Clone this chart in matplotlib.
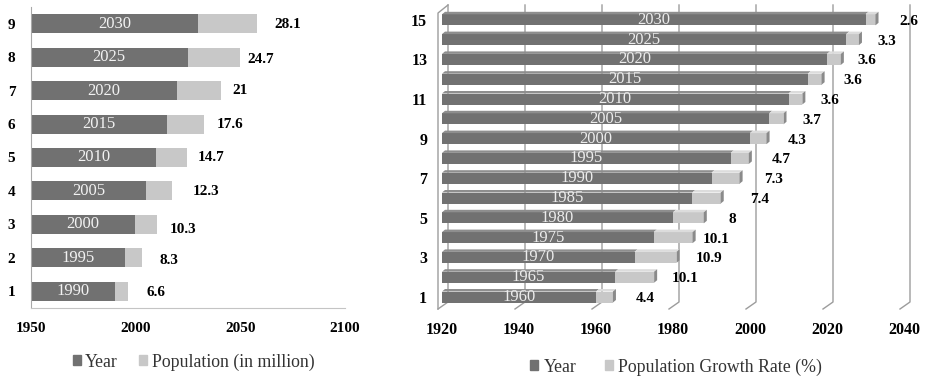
import numpy as np
import matplotlib.pyplot as plt
from matplotlib.patches import Polygon, Patch

plt.rcParams['font.family'] = ['Liberation Serif', 'DejaVu Serif']

# left panel: projected population
pop_cats = [1, 2, 3, 4, 5, 6, 7, 8, 9]
pop_years = [1990, 1995, 2000, 2005, 2010, 2015, 2020, 2025, 2030]
pop_million = [6.6, 8.3, 10.3, 12.3, 14.7, 17.6, 21, 24.7, 28.1]

# right panel: growth rate per five-year step
rate_cats = list(range(1, 16))
rate_years = [1960, 1965, 1970, 1975, 1980, 1985, 1990, 1995,
              2000, 2005, 2010, 2015, 2020, 2025, 2030]
rate_pct = [4.4, 10.1, 10.9, 10.1, 8, 7.4, 7.3, 4.7,
            4.3, 3.7, 3.6, 3.6, 3.6, 3.3, 2.6]

DARK = '#717171'
LIGHT = '#c8c8c8'
GRID = '#9c9c9c'

W, H = 925, 378
fig = plt.figure(figsize=(W / 100, H / 100), dpi=100)


def place(x0, y0, x1, y1):
    return fig.add_axes([x0 / W, 1 - y1 / H, (x1 - x0) / W, (y1 - y0) / H])


# ---------------- left chart ----------------
ax1 = place(30.7, 7, 345, 308)
ax1.set_xlim(1950, 2100)
ax1.set_ylim(0.5, 9.5)
base = 1950
ax1.barh(pop_cats, np.array(pop_years) - base, left=base, height=0.57, color=DARK)
ax1.barh(pop_cats, pop_million, left=pop_years, height=0.57, color=LIGHT)

lab_dx = [18, 17, 13, 21, 11, 13, 11, 8, 17]
lab_dy = [1, 3, 5, 1, 0, 0, 0, 2, 1]
for c, yr, v, dx, dy in zip(pop_cats, pop_years, pop_million, lab_dx, lab_dy):
    ax1.text((base + yr) / 2, c, str(yr), ha='center', va='center',
             color='#f2f2f2', fontsize=12)
    ax1.annotate(f'{v:g}', (yr + v, c), xytext=(dx, -dy), textcoords='offset pixels',
                 ha='left', va='center', fontsize=11, fontweight='bold')

ax1.set_xticks([1950, 2000, 2050, 2100])
ax1.set_yticks(pop_cats)
ax1.tick_params(length=0, labelsize=11)
ax1.tick_params(axis='x', pad=10)
ax1.tick_params(axis='y', pad=11)
for lbl in ax1.get_xticklabels() + ax1.get_yticklabels():
    lbl.set_fontweight('bold')
for s in ['top', 'right']:
    ax1.spines[s].set_visible(False)
ax1.spines['left'].set_color('#a8a8a8')
ax1.spines['bottom'].set_color('#c4c4c4')

fig.legend([Patch(color=DARK), Patch(color=LIGHT)], ['Year', 'Population (in million)'],
           loc='center', bbox_to_anchor=(193.5 / W, 1 - 362 / H), ncol=2, frameon=False,
           fontsize=12.8, handlelength=0.45, handleheight=0.45, handletextpad=0.25,
           columnspacing=1.2, borderpad=0, labelcolor='#333333')

# ---------------- right chart (3-D look) ----------------
ax2 = place(430, 0, 925, 318)
px_x, px_y = 3.85, 19.8          # pixels per year / per category
ax2.set_xlim(1920 - 12 / px_x, 1920 + 483 / px_x)
ax2.set_ylim(1 + (297 - 318) / px_y, 1 + 297 / px_y)
for s in ax2.spines.values():
    s.set_visible(False)


def cy(p):
    # pixel row -> category units
    return 1 + (297 - p) / px_y


# back wall gridlines with their floor slant
for t in range(1920, 2041, 20):
    xf, xb = t - 4 / px_x, t + 6 / px_x
    ax2.plot([xf, xb, xb], [cy(309), cy(302), cy(5)], color=GRID, lw=1,
             zorder=1, clip_on=False)
# left side wall front edge
xf, xb = 1920 - 4 / px_x, 1920 + 6 / px_x
ax2.plot([xf, xf, xb], [cy(309), cy(13), cy(5)], color=GRID, lw=1, zorder=1, clip_on=False)

fh = 11 / px_y
dx3, dy3 = 3 / px_x, 2.5 / px_y
ax2.barh(rate_cats, np.array(rate_years) - 1920, left=1920, height=fh, color=DARK, zorder=3)
ax2.barh(rate_cats, rate_pct, left=rate_years, height=fh, color=LIGHT, zorder=3)


def top_face(x0, x1, c, col):
    y1 = c + fh / 2
    ax2.add_patch(Polygon([(x0, y1), (x1, y1), (x1 + dx3, y1 + dy3), (x0 + dx3, y1 + dy3)],
                          closed=True, fc=col, ec='none', zorder=3))


for c, yr, v in zip(rate_cats, rate_years, rate_pct):
    top_face(1920, yr, c, '#8e8e8e')
    top_face(yr, yr + v, c, '#dcdcdc')
    x1 = yr + v
    y0, y1 = c - fh / 2, c + fh / 2
    ax2.add_patch(Polygon([(x1, y0), (x1, y1), (x1 + dx3, y1 + dy3), (x1 + dx3, y0 + dy3)],
                          closed=True, fc='#8a8a8a', ec='none', zorder=3))

rate_dx = [23, 18, 19, 10, 25, 29, 25, 23, 21, 19, 18, 22, 17, 18, 24]
for c, yr, v, dx in zip(rate_cats, rate_years, rate_pct, rate_dx):
    ax2.text((1920 + yr) / 2, c, str(yr), ha='center', va='center',
             color='#ececec', fontsize=12, zorder=4)
    ax2.annotate(f'{v:g}', (yr + v, c), xytext=(dx, -1.5), textcoords='offset pixels',
                 ha='left', va='center', fontsize=11, fontweight='bold', zorder=5)

ax2.set_xticks(range(1920, 2041, 20))
ax2.set_yticks(rate_cats[::2])
ax2.tick_params(length=0, labelsize=11.5)
ax2.tick_params(axis='x', pad=3)
ax2.tick_params(axis='y', pad=2)
for lbl in ax2.get_xticklabels() + ax2.get_yticklabels():
    lbl.set_fontweight('bold')

fig.legend([Patch(color=DARK), Patch(color=LIGHT)], ['Year', 'Population Growth Rate (%)'],
           loc='center', bbox_to_anchor=(676 / W, 1 - 367 / H), ncol=2, frameon=False,
           fontsize=12.8, handlelength=0.45, handleheight=0.45, handletextpad=0.3,
           columnspacing=1.6, borderpad=0, labelcolor='#333333')

fig.savefig('out.png', dpi=100)
